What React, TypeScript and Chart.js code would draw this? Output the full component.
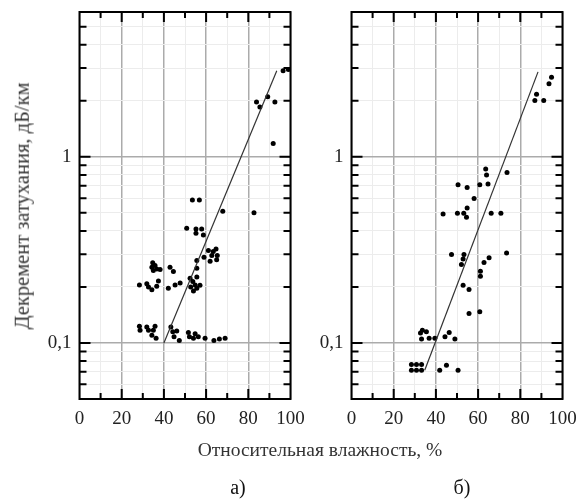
import React, { useEffect, useRef } from "react";
import { Chart, registerables } from "chart.js";

Chart.register(...registerables);

// ---- data ----
const aHumidity = [
  96.5, 99, 83.9, 85.5, 89.2, 92.6, 91.8, 82.7, 67.9, 53.5, 56.8,
  50.8, 55.2, 57.9, 55.2, 58.7, 61.1, 63.4, 64.7, 59, 62.7, 65.3, 61.9, 65,
  55.6, 55.6, 55.6,
  34.7, 35.8, 34.3, 36.6, 35, 38.2, 42.9, 44.5,
  28.4, 31.9, 32.7, 34.3, 36.6, 37.4, 42.1, 45.3, 47.7, 52.4, 53.7, 52.7, 54.8, 55.6, 57.1, 54,
  28.4, 28.7, 31.9, 32.7, 35.8, 35, 34.3, 36.3, 43.3, 44.2, 46.1, 44.8, 47.3, 51.6, 52.1, 54.8, 54,
  56.3, 59.5, 63.7, 66.3, 69,
];
const aDecrement = [
  2.9, 2.95, 1.97, 1.85, 2.1, 1.97, 1.18, 0.5, 0.51, 0.586, 0.586,
  0.413, 0.41, 0.41, 0.388, 0.38, 0.314, 0.31, 0.32, 0.289, 0.295, 0.295, 0.275, 0.28,
  0.277, 0.252, 0.226,
  0.27, 0.261, 0.255, 0.25, 0.245, 0.248, 0.255, 0.242,
  0.205, 0.208, 0.2, 0.193, 0.202, 0.215, 0.197, 0.205, 0.21, 0.223, 0.214, 0.2, 0.205, 0.197, 0.204, 0.19,
  0.123, 0.117, 0.122, 0.117, 0.123, 0.117, 0.11, 0.106, 0.122, 0.115, 0.116, 0.108, 0.103, 0.114, 0.108, 0.112, 0.106,
  0.108, 0.106, 0.103, 0.105, 0.106,
];
const aFitHumidity = [40, 93.5];
const aFitDecrement = [0.1, 2.9];

const bHumidity = [
  94.8, 93.6, 87.7, 86.9, 91.1,
  63.6, 64, 73.7,
  50.5, 54.8, 60.8, 64.7, 58.1,
  43.4, 50.2, 53.2, 54.8, 54.5, 66.2, 70.8,
  47.4, 53.3, 52.9, 52.1, 73.5, 62.8, 65.2, 61.1, 61.1,
  52.9, 55.7, 55.7, 60.8,
  33.6, 32.7, 35.5, 36.8, 33.2, 39.5, 44.3, 46.3, 49,
  28.4, 28.4, 30.8, 30.8, 33.2, 33.2, 41.8, 45, 50.5,
];
const bDecrement = [
  2.68, 2.47, 2.17, 2.01, 2.01,
  0.859, 0.8, 0.824,
  0.708, 0.685, 0.708, 0.714, 0.598,
  0.493, 0.497, 0.497, 0.531, 0.473, 0.497, 0.497,
  0.299, 0.299, 0.283, 0.264, 0.304, 0.271, 0.287, 0.243, 0.228,
  0.204, 0.194, 0.144, 0.147,
  0.117, 0.113, 0.115, 0.106, 0.105, 0.106, 0.108, 0.114, 0.105,
  0.0766, 0.0714, 0.0766, 0.0714, 0.0766, 0.0714, 0.0714, 0.076, 0.0714,
];
const bFitHumidity = [34.7, 88.4];
const bFitDecrement = [0.0714, 2.86];

const xMin = 0;
const xMax = 100;
const xStep = 10;
const xLabeledEvery = 20;
const yMin = 0.05;
const yMax = 6;
const yTickValues = [
  0.05, 0.06, 0.07, 0.08, 0.09, 0.1, 0.2, 0.3, 0.4, 0.5, 0.6, 0.7, 0.8, 0.9,
  1, 2, 3, 4, 5, 6,
];
const yMajorValues = [0.1, 1];
const yMajorLabels = ["0,1", "1"];

const xTitle = "Относительная влажность, %";
const yTitle = "Декремент затухания, дБ/км";
const panelLabels = ["а)", "б)"];

const FONT = '"Liberation Serif", "Times New Roman", serif';

const isMajorY = (v: number) => yMajorValues.some((m) => Math.abs(m - v) < 1e-9);

const frameTicks = {
  id: "frameTicks",
  afterDatasetsDraw(chart: any) {
    const { ctx, chartArea } = chart;
    const { left, right, top, bottom } = chartArea;
    const xs = chart.scales.x;
    const ys = chart.scales.y;
    ctx.save();
    ctx.strokeStyle = "#000";
    ctx.lineWidth = 2;
    ctx.beginPath();
    for (let v = xMin + xStep; v < xMax; v += xStep) {
      const px = xs.getPixelForValue(v);
      const len = v % xLabeledEvery === 0 ? 10 : 6;
      ctx.moveTo(px, bottom);
      ctx.lineTo(px, bottom - len);
      ctx.moveTo(px, top);
      ctx.lineTo(px, top + len);
    }
    for (const v of yTickValues) {
      if (v <= yMin || v >= yMax) continue;
      const py = ys.getPixelForValue(v);
      const len = isMajorY(v) ? 11 : 7;
      ctx.moveTo(left, py);
      ctx.lineTo(left + len, py);
      ctx.moveTo(right, py);
      ctx.lineTo(right - len, py);
    }
    ctx.stroke();
    ctx.lineWidth = 2;
    ctx.strokeRect(left, top, right - left, bottom - top);
    ctx.restore();
  },
};

type PanelProps = {
  xs: number[];
  ys: number[];
  fitX: number[];
  fitY: number[];
  left: number;
  width: number;
  height: number;
  yAxisWidth: number;
  padRight: number;
};

function Panel(p: PanelProps) {
  const ref = useRef<HTMLCanvasElement | null>(null);
  useEffect(() => {
    if (!ref.current) return;
    const points = p.xs.map((x, i) => ({ x, y: p.ys[i] }));
    const fit = p.fitX.map((x, i) => ({ x, y: p.fitY[i] }));
    const chart = new Chart(ref.current, {
      type: "scatter",
      data: {
        datasets: [
          {
            data: fit,
            showLine: true,
            borderColor: "#333",
            borderWidth: 1.2,
            pointRadius: 0,
          },
          {
            data: points,
            pointRadius: 2.5,
            pointBackgroundColor: "#000",
            pointBorderWidth: 0,
            backgroundColor: "#000",
          },
        ],
      },
      options: {
        responsive: false,
        animation: false,
        layout: { padding: { top: 12, left: 0, right: p.padRight, bottom: 0 } },
        plugins: { legend: { display: false }, tooltip: { enabled: false } },
        scales: {
          x: {
            type: "linear",
            min: xMin,
            max: xMax,
            afterFit: (s: any) => {
              s.height = p.height - 399;
              s.paddingLeft = 0;
              s.paddingRight = 0;
            },
            ticks: {
              stepSize: xStep,
              autoSkip: false,
              maxRotation: 0,
              padding: 9,
              color: "#222",
              font: { family: FONT, size: 19 },
              callback: (v: any) => (Number(v) % xLabeledEvery === 0 ? String(v) : ""),
            },
            grid: {
              drawTicks: false,
              color: (c: any) =>
                c.tick && c.tick.value % xLabeledEvery === 0 ? "#ababab" : "#ececec",
              lineWidth: (c: any) =>
                c.tick && c.tick.value % xLabeledEvery === 0 ? 1.5 : 1,
            },
            border: { display: false },
          },
          y: {
            type: "logarithmic",
            min: yMin,
            max: yMax,
            afterFit: (s: any) => {
              s.width = p.yAxisWidth;
              s.paddingTop = 0;
              s.paddingBottom = 0;
            },
            afterBuildTicks: (s: any) => {
              s.ticks = yTickValues.map((v) => ({ value: v, major: isMajorY(v) }));
            },
            ticks: {
              autoSkip: false,
              padding: 8,
              color: "#222",
              font: { family: FONT, size: 19 },
              callback: (v: any) => {
                const i = yMajorValues.findIndex((m) => Math.abs(m - Number(v)) < 1e-9);
                return i >= 0 ? yMajorLabels[i] : "";
              },
            },
            grid: {
              drawTicks: false,
              color: (c: any) => (c.tick && isMajorY(c.tick.value) ? "#ababab" : "#ececec"),
              lineWidth: (c: any) => (c.tick && isMajorY(c.tick.value) ? 1.5 : 1),
            },
            border: { display: false },
          },
        },
      },
      plugins: [frameTicks],
    });
    return () => chart.destroy();
  }, []);
  return (
    <canvas
      ref={ref}
      width={p.width}
      height={p.height}
      style={{ position: "absolute", left: p.left, top: 0, width: p.width, height: p.height }}
    />
  );
}

export default function App() {
  const H = 445;
  const textStyle: React.CSSProperties = {
    position: "absolute",
    fontFamily: FONT,
    whiteSpace: "nowrap",
    lineHeight: 1,
  };
  return (
    <div
      style={{
        position: "absolute",
        left: 0,
        top: 0,
        width: 579,
        height: 501,
        background: "#fff",
        overflow: "hidden",
      }}
    >
      <Panel
        xs={aHumidity}
        ys={aDecrement}
        fitX={aFitHumidity}
        fitY={aFitDecrement}
        left={0}
        width={320}
        height={H}
        yAxisWidth={79.5}
        padRight={320 - 290.5}
      />
      <Panel
        xs={bHumidity}
        ys={bDecrement}
        fitX={bFitHumidity}
        fitY={bFitDecrement}
        left={300}
        width={279}
        height={H}
        yAxisWidth={51.5}
        padRight={279 - 262.5}
      />
      <div
        style={{
          ...textStyle,
          left: 22,
          top: 206,
          fontSize: 20.5,
          color: "#333",
          transform: "translate(-50%, -50%) rotate(-90deg)",
        }}
      >
        {yTitle}
      </div>
      <div
        style={{
          ...textStyle,
          left: 320,
          top: 450,
          fontSize: 19.5,
          color: "#333",
          transform: "translate(-50%, -50%)",
        }}
      >
        {xTitle}
      </div>
      <div
        style={{
          ...textStyle,
          left: 238,
          top: 487,
          fontSize: 20,
          color: "#111",
          transform: "translate(-50%, -50%)",
        }}
      >
        {panelLabels[0]}
      </div>
      <div
        style={{
          ...textStyle,
          left: 462,
          top: 487,
          fontSize: 20,
          color: "#111",
          transform: "translate(-50%, -50%)",
        }}
      >
        {panelLabels[1]}
      </div>
    </div>
  );
}
